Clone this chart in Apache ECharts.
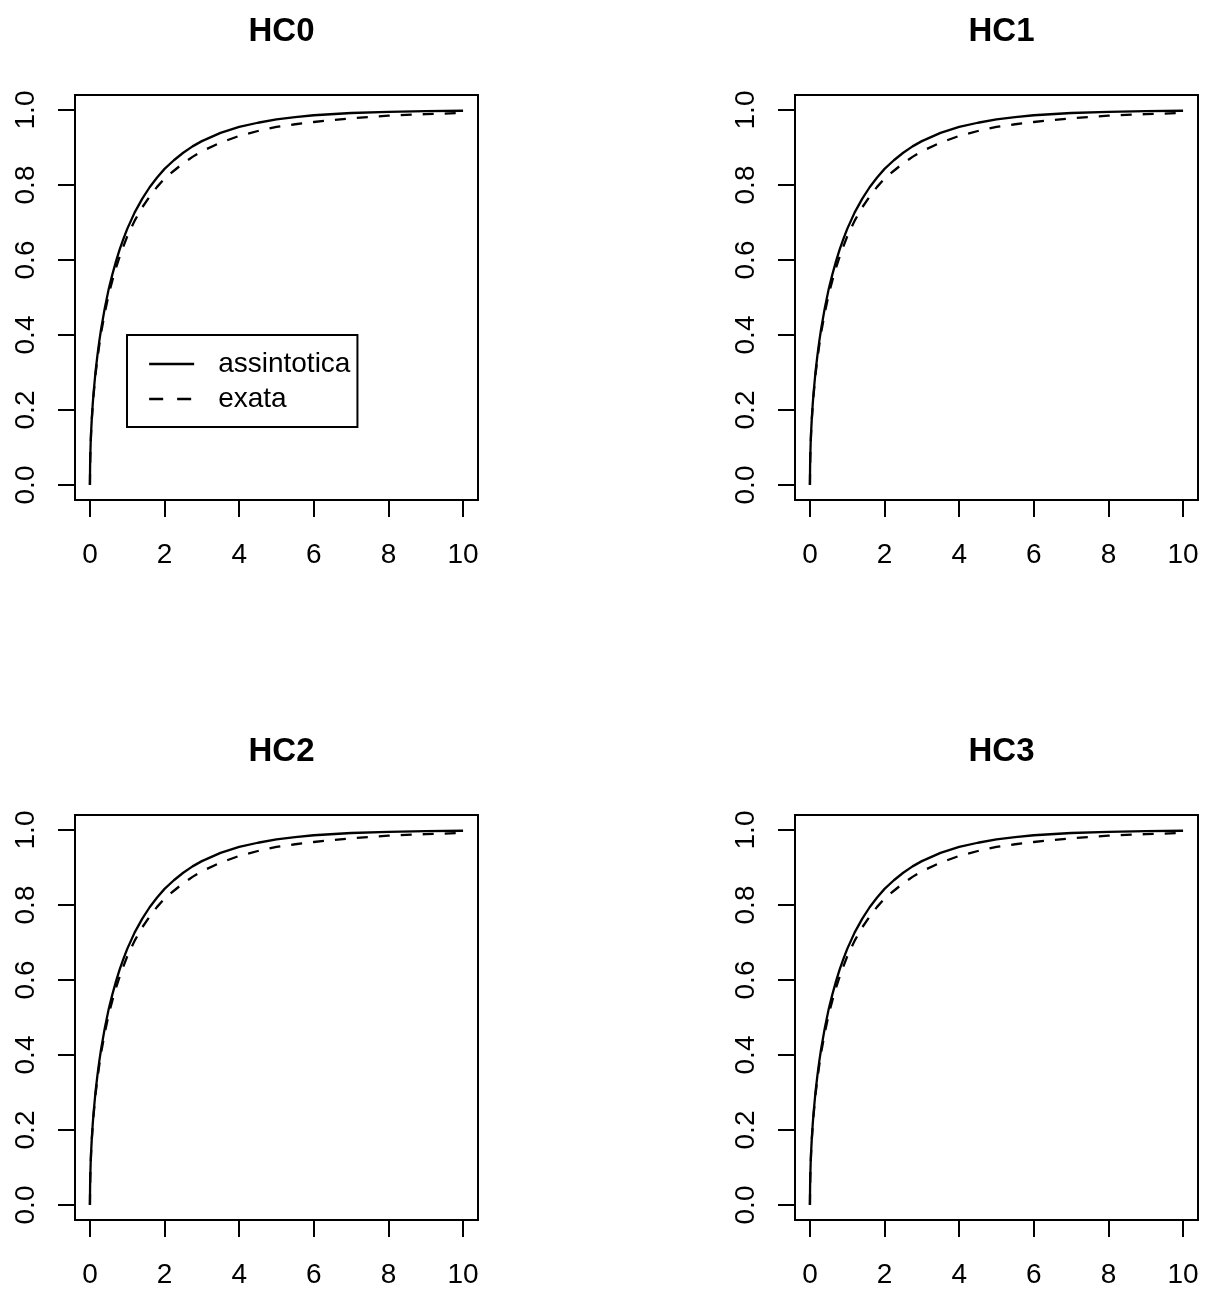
<!DOCTYPE html>
<html>
<head>
<meta charset="utf-8">
<script src="https://cdn.jsdelivr.net/npm/echarts@6/dist/echarts.min.js"></script>
<style>
  html, body { margin: 0; padding: 0; background: #fff; }
  #main { width: 1209px; height: 1290px; }
</style>
</head>
<body>
<div id="main"></div>
<script>
// values (same curves in all four panels)
var panelNames = ['HC0', 'HC1', 'HC2', 'HC3'];
var xs = [0, 0.005, 0.01, 0.02, 0.03, 0.05, 0.075, 0.1, 0.15, 0.2, 0.25, 0.3, 0.4, 0.5, 0.6, 0.7, 0.8, 0.9, 1.0,
          1.2, 1.4, 1.6, 1.8, 2.0, 2.25, 2.5, 2.75, 3.0, 3.5, 4.0, 4.5, 5.0, 5.5, 6.0, 7.0, 8.0, 9.0, 10.0];
var assintotica = [0, 0.056, 0.080, 0.112, 0.138, 0.177, 0.216, 0.248, 0.302, 0.345, 0.383, 0.416, 0.473, 0.521,
                   0.561, 0.597, 0.629, 0.657, 0.683, 0.727, 0.763, 0.794, 0.820, 0.843, 0.866, 0.886, 0.903,
                   0.917, 0.939, 0.955, 0.966, 0.975, 0.981, 0.986, 0.992, 0.995, 0.997, 0.998];
var exata = [0, 0.055, 0.078, 0.110, 0.135, 0.174, 0.212, 0.242, 0.295, 0.336, 0.373, 0.406, 0.460, 0.507,
             0.545, 0.580, 0.610, 0.637, 0.663, 0.705, 0.740, 0.769, 0.795, 0.817, 0.838, 0.858, 0.875,
             0.890, 0.913, 0.931, 0.944, 0.955, 0.962, 0.968, 0.978, 0.985, 0.989, 0.992];
var xTicks = [0, 2, 4, 6, 8, 10];
var yTicks = [0, 0.2, 0.4, 0.6, 0.8, 1.0];

var myChart = echarts.init(document.getElementById('main'));

var font = 'Liberation Sans, Arial, Helvetica, sans-serif';
var spots = [[75, 95], [795, 95], [75, 815], [795, 815]];
var W = 403, H = 405;

var grids = [], xAxes = [], yAxes = [], series = [], titles = [];

function pairs(ys) {
    var out = [];
    for (var i = 0; i < xs.length; i++) {
        out.push([xs[i], ys[i]]);
    }
    return out;
}

for (var p = 0; p < 4; p++) {
    grids.push({
        left: spots[p][0], top: spots[p][1], width: W, height: H,
        show: true, borderColor: '#000', borderWidth: 2, backgroundColor: 'transparent'
    });
    titles.push({
        text: panelNames[p],
        left: spots[p][0] + W / 2,
        top: spots[p][1] - 85,
        textAlign: 'center',
        textStyle: { fontFamily: font, fontSize: 33, fontWeight: 'bold', color: '#000' }
    });
    xAxes.push({
        type: 'value', gridIndex: p, min: -0.4, max: 10.4,
        axisLine: { show: false, onZero: false },
        axisTick: { show: true, inside: false, length: 17, customValues: xTicks, lineStyle: { color: '#000', width: 2 } },
        axisLabel: { customValues: xTicks, margin: 41, fontFamily: font, fontSize: 28, color: '#000' },
        splitLine: { show: false }
    });
    yAxes.push({
        type: 'value', gridIndex: p, min: -0.04, max: 1.04,
        axisLine: { show: false, onZero: false },
        axisTick: { show: true, inside: false, length: 17, customValues: yTicks, lineStyle: { color: '#000', width: 2 } },
        axisLabel: {
            customValues: yTicks, margin: 35, rotate: 90, fontFamily: font, fontSize: 28, color: '#000',
            formatter: function (v) { return v.toFixed(1); }
        },
        splitLine: { show: false }
    });
    series.push({
        name: 'assintotica', type: 'line', xAxisIndex: p, yAxisIndex: p,
        data: pairs(assintotica), symbol: 'none', silent: true,
        lineStyle: { color: '#000', width: 2.3 }
    });
    series.push({
        name: 'exata', type: 'line', xAxisIndex: p, yAxisIndex: p,
        data: pairs(exata), symbol: 'none', silent: true,
        lineStyle: { color: '#000', width: 2.3, type: [11, 11] }
    });
}

var option = {
    animation: false,
    backgroundColor: '#fff',
    title: titles,
    legend: {
        orient: 'vertical',
        left: 127, top: 335,
        padding: [14, 7, 13, 21],
        itemWidth: 45, itemHeight: 14, itemGap: 5,
        borderColor: '#000', borderWidth: 2, borderRadius: 0,
        selectedMode: false,
        itemStyle: { opacity: 0 },
        data: [
            { name: 'assintotica' },
            { name: 'exata', lineStyle: { type: [14, 14] } }
        ],
        lineStyle: { color: '#000', width: 2.3 },
        textStyle: { fontFamily: font, fontSize: 28, color: '#000', lineHeight: 30, padding: [0, 0, 0, 19] }
    },
    grid: grids,
    xAxis: xAxes,
    yAxis: yAxes,
    series: series
};

myChart.setOption(option);
</script>
</body>
</html>
